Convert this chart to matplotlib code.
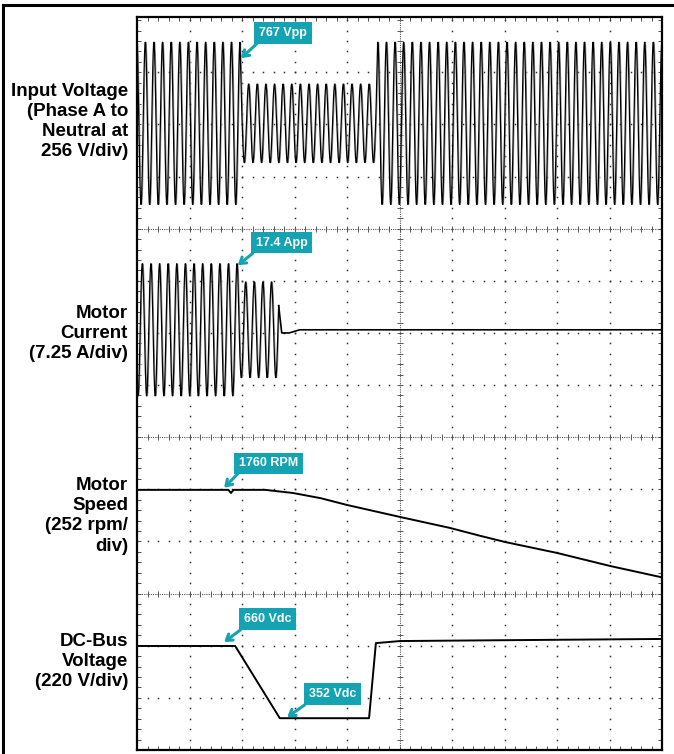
import numpy as np
import matplotlib.pyplot as plt
from matplotlib.lines import Line2D
from matplotlib.ticker import MultipleLocator

plt.rcParams['font.family'] = ['Liberation Sans', 'DejaVu Sans']

teal = '#13a3b3'
period = 0.164

# input voltage (phase A to neutral), envelope of the sine
volt_center = 12.02
volt_peak_t = 1.962
volt_env_t = [0.0, 1.96, 1.99, 4.55, 4.58, 10.0]
volt_env_a = [1.56, 1.56, 0.755, 0.755, 1.56, 1.56]

# motor current
cur_center = 8.06
cur_peak_t = 1.905
cur_env_t = [0.0, 1.92, 1.97, 2.72]
cur_env_a = [1.27, 1.27, 0.92, 0.92]
cur_tail_t = [2.757, 2.9, 3.1, 10.0]
cur_tail_y = [8.0, 8.0, 8.06, 8.06]

# motor speed
spd_t = [0.0, 1.74, 1.79, 1.84, 2.44, 2.97, 3.5, 4.0, 5.01, 5.96, 6.53, 7.01, 8.0, 9.01, 9.96, 10.0]
spd_y = [4.99, 4.99, 4.93, 4.99, 4.99, 4.93, 4.83, 4.70, 4.47, 4.26, 4.11, 3.99, 3.78, 3.53, 3.32, 3.31]

# dc-bus voltage
dc_t = [0.0, 1.87, 2.72, 4.42, 4.55, 5.01, 10.0]
dc_y = [1.995, 1.995, 0.61, 0.61, 2.05, 2.09, 2.13]

# labels on the left
labels = ['Input Voltage\n(Phase A to\nNeutral at\n256 V/div)',
          'Motor\nCurrent\n(7.25 A/div)',
          'Motor\nSpeed\n(252 rpm/\ndiv)',
          'DC-Bus\nVoltage\n(220 V/div)']
label_y = [0.839, 0.558, 0.316, 0.123]

# callouts: text, arrow tip, box centre
call_text = ['767 Vpp', '17.4 App', '1760 RPM', '660 Vdc', '352 Vdc']
call_tip = [(1.98, 13.27), (1.92, 9.30), (1.66, 5.03), (1.66, 2.07), (2.86, 0.63)]
call_box = [(2.78, 13.75), (2.75, 9.73), (2.50, 5.50), (2.49, 2.51), (3.72, 1.07)]

fig = plt.figure(figsize=(6.74, 7.54), dpi=100)
ax = fig.add_axes([137/674, 4/754, 525/674, 733/754])
ax.set_xlim(0, 10)
ax.set_ylim(0, 14.06)

# grid of the scope screen
dense_y = [3, 6, 10]
dots = np.arange(0, 10.01, 0.2)
ydots = np.arange(0, 14.01, 0.2)
for gx in range(1, 10):
    if gx == 5:
        continue
    ax.plot(np.full(len(ydots), gx), ydots, ls='none', marker='s', ms=1.1, color='0.2', mew=0)
for gy in range(1, 14):
    if gy in dense_y:
        continue
    ax.plot(dots, np.full(len(dots), gy), ls='none', marker='s', ms=1.1, color='0.2', mew=0)
for gy in dense_y:
    ax.axhline(gy, ls=(0, (1, 1)), lw=0.8, color='0.35')
    ax.plot(dots, np.full(len(dots), gy), ls='none', marker='|', ms=5, mew=0.7, color='0.35')
ax.axvline(5, ls=(0, (1, 1)), lw=0.8, color='0.35')
ax.plot(np.full(len(ydots), 5), ydots, ls='none', marker='_', ms=5, mew=0.7, color='0.35')

# input voltage trace
t = np.arange(0, 10.0001, period / 40)
va = np.interp(t, volt_env_t, volt_env_a)
v = volt_center + va * np.cos(2 * np.pi * (t - volt_peak_t) / period)
ax.plot(t + 0.015, v, color='0.6', lw=0.7)
ax.plot(t, v, color='black', lw=0.9)

# motor current trace
tc = t[t <= 2.70]
ca = np.interp(tc, cur_env_t, cur_env_a)
c = cur_center + ca * np.cos(2 * np.pi * (tc - cur_peak_t) / period)
ax.plot(tc + 0.015, c, color='0.6', lw=0.7)
ax.plot(tc, c, color='black', lw=0.9)
ax.plot(np.r_[tc[-1], cur_tail_t], np.r_[c[-1], cur_tail_y], color='black', lw=1.2)

# speed and dc bus
ax.plot(spd_t, spd_y, color='black', lw=1.4)
ax.plot(dc_t, dc_y, color='black', lw=1.4)

for txt, tip, box in zip(call_text, call_tip, call_box):
    ax.annotate(txt, xy=tip, xytext=box, ha='center', va='center',
                color='white', fontsize=9, fontweight='bold',
                bbox=dict(boxstyle='square,pad=0.38', fc=teal, ec='none'),
                arrowprops=dict(arrowstyle='->,head_length=0.45,head_width=0.3',
                                color=teal, lw=2.2, shrinkA=0, shrinkB=0,
                                relpos=(0.06, 0.0)))

ax.xaxis.set_major_locator(MultipleLocator(1))
ax.yaxis.set_major_locator(MultipleLocator(1))
ax.xaxis.set_minor_locator(MultipleLocator(0.2))
ax.yaxis.set_minor_locator(MultipleLocator(0.2))
ax.tick_params(which='both', direction='in', length=3, width=0.7, color='0.3',
               top=True, right=True, labelbottom=False, labelleft=False)
for s in ax.spines.values():
    s.set_linewidth(1.6)

for txt, ly in zip(labels, label_y):
    fig.text(128/674, ly, txt, ha='right', va='center', multialignment='right',
             fontsize=13.5, fontweight='bold', linespacing=1.25)

# outer frame
fig.add_artist(Line2D([3/674, 3/674], [0, 1 - 5/754], color='black', lw=2.2))
fig.add_artist(Line2D([3/674, 1], [1 - 5/754, 1 - 5/754], color='black', lw=2.2))

fig.savefig('out.png', dpi=100)
